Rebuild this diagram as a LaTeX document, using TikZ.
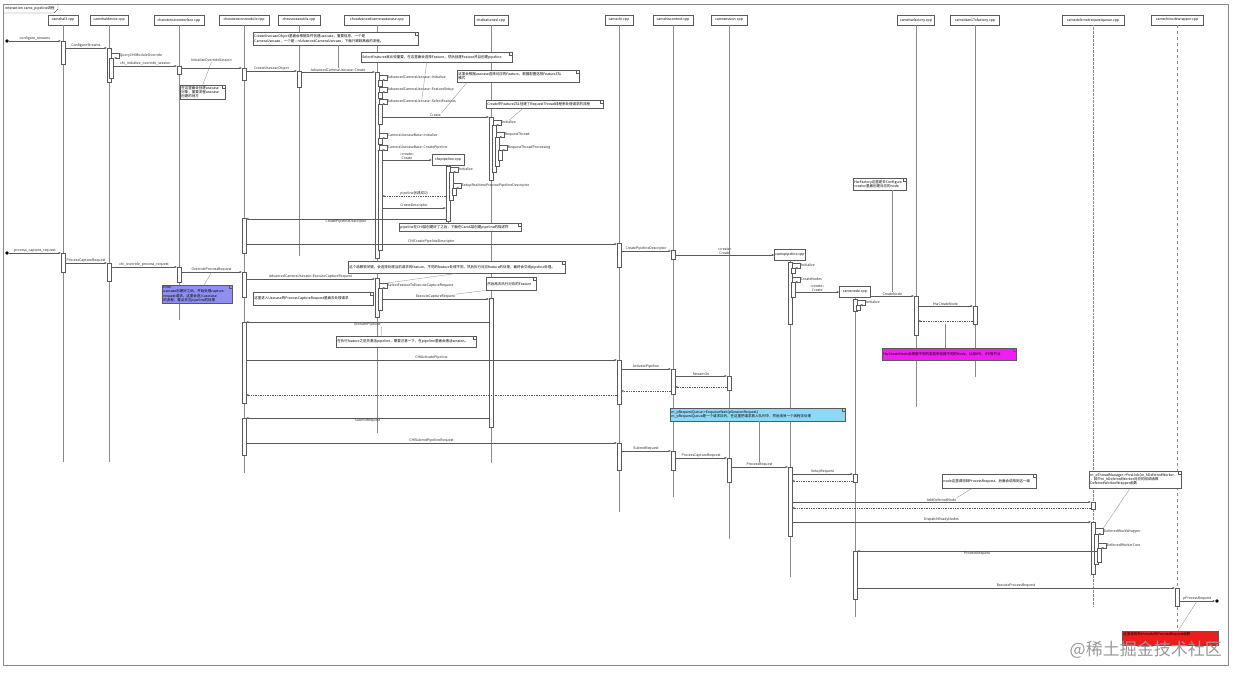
\documentclass[tikz,border=0pt]{standalone}
\usepackage{fontspec}
\setmainfont{Noto Sans CJK SC}
\usetikzlibrary{positioning, arrows.meta}
\definecolor{seqLine}{HTML}{5A5A5A}
\definecolor{seqLife}{HTML}{8A8A8A}
\definecolor{notePurple}{HTML}{8F8FF2}
\definecolor{noteMagenta}{HTML}{F01EF0}
\definecolor{noteCyan}{HTML}{8FD7F7}
\definecolor{noteRed}{HTML}{EE1D1D}
\newcommand\seqfont{\fontsize{3.5}{4.1}\selectfont}
% activation bar: [xshift]{name}{lifeline}{top}{bottom}
\newcommand\actbar[5][0pt]{\node[actbar, anchor=north, xshift=#1,
  minimum height={(#5-#4)*1pt}] (#2) at (#3 |- 0,#4) {};}
% messages: [label opts]{label name}{from}{to}{y}{text}
\newcommand\msgR[6][]{\draw[msg] (#3.east |- 0,#5) -- node[lbl,#1] (#2) {#6} (#4.west |- 0,#5);}
\newcommand\msgL[6][]{\draw[msg] (#3.west |- 0,#5) -- node[lbl,#1] (#2) {#6} (#4.east |- 0,#5);}
\newcommand\retL[3]{\draw[ret] (#1.west |- 0,#3) -- (#2.east |- 0,#3);}
\newcommand\selfmsg[5]{\draw[msg] (#2.east |- 0,#3) -- ++(8,0)
  -- node[lbl, right, anchor=west] (#1) {#5} ++(0,{#4-#3}) -- ++(-5,0);}
% note: [fill]{name}{x,y}{text width}{height}{text}
\newcommand\notebox[6][white]{\node[note, fill=#1, text width=#4, minimum height=#5] (#2) at (#3) {#6};
  \draw[notefold] ([xshift=-3pt]#2.north east) -- ([xshift=-3pt,yshift=-3pt]#2.north east) -- ([yshift=-3pt]#2.north east);}

\begin{document}
\begin{tikzpicture}[x=1pt, y=-1pt,
    head/.style={draw=seqLine, fill=white, font=\seqfont, minimum height=10pt, inner sep=1pt, line width=0.5pt},
    made/.style={head, minimum height=11pt},
    life/.style={draw=seqLife, line width=0.35pt},
    actbar/.style={draw=seqLine, fill=white, minimum width=4pt, inner sep=0pt, line width=0.4pt},
    msg/.style={draw=seqLine, line width=0.4pt, -{Stealth[length=2.6pt, width=2.2pt]}},
    ret/.style={msg, dash pattern=on 1.4pt off 1pt},
    lbl/.style={font=\seqfont, inner sep=0.5pt, above, align=center, text=black!85},
    note/.style={draw=seqLine, font=\seqfont, align=left, anchor=north west, inner sep=1.2pt, line width=0.4pt},
    notefold/.style={draw=seqLine, line width=0.3pt},
    link/.style={draw=seqLife, line width=0.3pt},
    dot/.style={circle, fill=black, inner sep=0pt, minimum size=3.6pt}]
  \useasboundingbox (0,0) rectangle (1240,677);
  \draw[seqLife, line width=0.5pt] (3,4) rectangle (1228,665);
  \node[font=\seqfont, anchor=west, inner sep=1pt] (title) at (4,8.5) {interaction camx\_pipeline流程};
  \draw[seqLine, line width=0.4pt] (3,13) -- (54,13) -- (58,9) -- (58,4);

  % lifeline heads
  \node[head, minimum width=30pt] (hal3) at (63,20) {camxhal3.cpp};
  \node[head, minimum width=38pt] (haldev) at (109,20) {camxhaldevice.cpp};
  \node[head, minimum width=50pt] (extif) at (179,20) {chxextensioninterface.cpp};
  \node[head, minimum width=50pt] (extmod) at (244,20) {chxextensionmodule.cpp};
  \node[head, minimum width=42pt] (ucutil) at (299,20) {chxusecaseutils.cpp};
  \node[head, minimum width=65pt] (advuc) at (377,20) {chxadvancedcamerausecase.cpp};
  \node[head, minimum width=34pt] (fzsl) at (491,20) {chxfeaturezsl.cpp};
  \node[head, minimum width=28pt] (chi) at (619,20) {camxchi.cpp};
  \node[head, minimum width=40pt] (hwctx) at (673,20) {camxhwcontext.cpp};
  \node[head, minimum width=36pt] (sess) at (729,20) {camxsession.cpp};
  \node[head, minimum width=37pt] (hwfac) at (916,20) {camxhwfactory.cpp};
  \node[head, minimum width=49pt] (titan) at (975,20) {camxtitan17xfactory.cpp};
  \node[head, minimum width=62pt] (drq) at (1093,20) {camxdeferredrequestqueue.cpp};
  \node[head, minimum width=52pt] (cnw) at (1177,20) {camxchinodewrapper.cpp};
  \node[made, minimum width=32pt] (chxpipe) at (448,159.5) {chxpipeline.cpp};
  \node[made, minimum width=30pt] (cxpipe) at (790,255) {camxpipeline.cpp};
  \node[made, minimum width=31pt] (cxnode) at (855,292) {camxnode.cpp};

  \foreach \n/\e in {hal3/462, haldev/462, extif/320, extmod/473, ucutil/256, advuc/433,
      fzsl/463, chi/512, hwctx/497, sess/539, hwfac/407, titan/377,
      chxpipe/226, cxpipe/577, cxnode/617}
    \draw[life] (\n.south) -- (\n.south |- 0,\e);
  \draw[life, densely dotted] (drq.south) -- (drq.south |- 0,607);
  \draw[life, dashed] (cnw.south) -- (cnw.south |- 0,631);

  % notes
  \notebox{n1}{180,85}{42.6pt}{13pt}{在这里面会创建usecase\\对象，重要流程usecase\\创建的地方}
  \notebox{n2}{253,32}{162.6pt}{13pt}{CreateUsecaseObject里面会根据条件创建usecase，重要信息，一个是\\CameraUsecase，一个是---{}>AdvancedCameraUsecase，下面只跟踪高级的流程。}
  \notebox{n3}{361,52}{148.6pt}{10pt}{SelectFeatures就比较重要，在这里面会选择Feature，然后创建Feature并且创建pipeline}
  \notebox{n4}{457,70}{119.6pt}{12pt}{这里会根据usecase选择对应的Feature，根据配置选择FeatureZSL\\模式}
  \notebox{n5}{486,100}{114.6pt}{8pt}{Create中FeatureZSL创建了RequestThread线程来处理请求的流程}
  \notebox{n6}{399,223}{119.6pt}{8pt}{pipeline在CHI层创建好了之后，下面在CamX层创建pipeline的描述符}
  \notebox{n7}{348,261}{214.6pt}{12pt}{这个函数很关键，会选择处理当前请求的feature，不同的feature处理不同，然后执行对应feature的处理，最终会交给pipeline处理。}
  \notebox{n8}{486,277}{47.6pt}{13pt}{然后再去执行对应的Feature}
  \notebox{n9}{253,292}{117.6pt}{13pt}{这里进入Usecase的ProcessCaptureRequest里面去处理请求}
  \notebox{n10}{336,336}{137.6pt}{11pt}{在执行feature之前先激活pipeline，需要注意一下，在pipeline里面会激活session。}
  \notebox[notePurple]{n11}{162,285}{67.6pt}{18pt}{note:\\usecase创建好之后，开始处理capture\\request请求，这里会进入usecase\\的流程，重点关注pipeline的处理}
  \notebox{n12}{853,178}{50.6pt}{12pt}{HwFactory这里是去Configure\\creator里面创建对应的node}
  \notebox[noteMagenta]{n13}{882,348}{131.6pt}{12pt}{HwCreateNode会根据不同的类型来创建不同的Node，比如IFE、IPE等节点}
  \notebox[noteCyan]{n14}{670,408}{172.6pt}{13pt}{m\_pRequestQueue->EnqueueWait(pSessionRequest)\\m\_pRequestQueue是一个请求队列，在这里把请求放入队列中，然后由另一个线程去处理}
  \notebox{n15}{942,474}{91.6pt}{14pt}{node这里调用到ProcessRequest，后面会调用到这一级}
  \notebox{n16}{1089,471}{89.6pt}{17pt}{m\_pThreadManager->PostJob(m\_hDeferredWorker...\\，其中m\_hDeferredWorker对应的回调函数\\DeferredWorkerWrapper函数}
  \node[note, fill=noteRed, text width=93.6pt, minimum height=14pt, anchor=north west, inner ysep=0.6pt, text depth=8pt] (n17) at (1122,631) {这里调用到chinode的ProcessRequest函数};
  \draw[notefold] ([xshift=-3pt]n17.north east) -- ([xshift=-3pt,yshift=-3pt]n17.north east) -- ([yshift=-3pt]n17.north east);

  % activations, configure_streams
  \actbar{a1}{hal3}{41}{64}
  \actbar{a2}{haldev}{48}{82}
  \actbar[2.5pt]{a2b}{haldev}{58}{78}
  \actbar{a3}{extif}{66}{74}
  \actbar{a4}{extmod}{68}{80}
  \actbar{a5}{ucutil}{71}{87}
  \actbar{a6}{advuc}{72}{258}
  \actbar[3pt]{a6b}{advuc}{80}{86}
  \actbar[3pt]{a6c}{advuc}{92}{98}
  \actbar[3pt]{a6d}{advuc}{104}{124}
  \actbar[3pt]{a6e}{advuc}{138}{144}
  \actbar[3pt]{a6f}{advuc}{150}{250}
  \actbar{a7}{fzsl}{117}{180}
  \actbar[3pt]{a7b}{fzsl}{125}{172}
  \actbar[6pt]{a7c}{fzsl}{137}{166}
  \actbar[9pt]{a7d}{fzsl}{150}{160}
  \actbar{a8}{chxpipe}{166}{221}
  \actbar[3pt]{a8b}{chxpipe}{172}{200}
  \actbar[6pt]{a8c}{chxpipe}{188}{195}
  \actbar{a9}{extmod}{218}{253}
  \actbar{a10}{chi}{243}{267}
  \actbar{a11}{hwctx}{250}{259}
  \actbar{a12}{cxpipe}{262}{324}
  \actbar[3pt]{a12i}{cxpipe}{268}{273}
  \actbar[3pt]{a12b}{cxpipe}{282}{297}
  \actbar{a13}{cxnode}{299}{311}
  \actbar[3pt]{a13i}{cxnode}{305}{310}
  \actbar{a14}{hwfac}{296}{335}
  \actbar{a15}{titan}{306}{324}
  % activations, process_capture_request
  \actbar{b1}{hal3}{253}{272}
  \actbar{b2}{haldev}{263}{281}
  \actbar{b3}{extif}{267}{282}
  \actbar{b4}{extmod}{272}{297}
  \actbar{b5}{advuc}{278}{317}
  \actbar[3pt]{b5b}{advuc}{288}{310}
  \actbar{b6}{fzsl}{298}{427}
  \actbar{b7}{extmod}{322}{403}
  \actbar{b8}{chi}{360}{404}
  \actbar{b9}{hwctx}{369}{394}
  \actbar{b10}{sess}{376}{390}
  \actbar{b11}{extmod}{418}{455}
  \actbar{b12}{chi}{443}{470}
  \actbar{b13}{hwctx}{451}{470}
  \actbar{b14}{sess}{458}{482}
  \actbar{b15}{cxpipe}{467}{536}
  \actbar{b16}{cxnode}{474}{482}
  \actbar{b17}{drq}{502}{509}
  \actbar{b18}{drq}{522}{574}
  \actbar[3pt]{b18b}{drq}{534}{564}
  \actbar[6pt]{b18c}{drq}{548}{562}
  \actbar{b19}{cxnode}{551}{599}
  \actbar{b20}{cnw}{588}{606}

  % configure_streams
  \node[dot] (start1) at (7,41) {};
  \draw[msg] (start1) -- node[lbl] (lCfg) {configure\_streams} (a1.west |- 0,41);
  \msgR{lCfgS}{a1}{a2}{48}{ConfigureStreams}
  \selfmsg{lQuery}{a2}{53}{58}{QueryCHIModuleOverride}
  \msgR{lChiInit}{a2b}{a3}{66}{chi\_initialize\_override\_session}
  \msgR[yshift=6pt]{lInitOS}{a3}{a4}{68}{InitializeOverrideSession}
  \msgR{lUcObj}{a4}{a5}{71}{CreateUsecaseObject}
  \msgR{lAdvCreate}{a5}{a6}{72}{AdvancedCameraUsecase::Create}
  \selfmsg{lAdvInit}{a6}{75}{80}{AdvancedCameraUsecase::Initialize}
  \selfmsg{lFeatSetup}{a6}{87}{92}{AdvancedCameraUsecase::FeatureSetup}
  \selfmsg{lSelect}{a6}{99}{104}{AdvancedCameraUsecase::SelectFeatures}
  \msgR{lCreateF}{a6d}{a7}{117}{Create}
  \selfmsg{lInitF}{a7}{120}{125}{Initialize}
  \selfmsg{lReqThr}{a7b}{132}{137}{RequestThread}
  \selfmsg{lReqProc}{a7c}{145}{150}{RequestThreadProcessing}
  \selfmsg{lUcbInit}{a6}{133}{138}{CameraUsecaseBase::Initialize}
  \selfmsg{lUcbPipe}{a6}{145}{150}{CameraUsecaseBase::CreatePipeline}
  \msgR{lMkChxPipe}{a6f}{chxpipe}{160}{«create»\\Create}
  \selfmsg{lPipeInit}{a8}{167}{172}{Initialize}
  \selfmsg{lSetupRt}{a8b}{183}{188}{SetupRealtimePreviewPipelineDescriptor}
  \draw[ret] (a8.west |- 0,196) -- node[lbl] (lPipeOk) {pipeline创建成功} (a6f.east |- 0,196);
  \msgR{lCreateDesc}{a6f}{a8}{208}{CreateDescriptor}
  \msgL[below]{lPipeDesc}{a8}{a9}{219}{CreatePipelineDescriptor}
  \msgR{lChiDesc}{a9}{a10}{244}{CHICreatePipelineDescriptor}
  \msgR{lCtxDesc}{a10}{a11}{251}{CreatePipelineDescriptor}
  \msgR{lMkCxPipe}{a11}{cxpipe}{255}{«create»\\Create}
  \selfmsg{lCxInit}{a12}{263}{268}{Initialize}
  \selfmsg{lCreateNodes}{a12}{277}{282}{CreateNodes}
  \msgR{lMkNode}{a12b}{cxnode}{292}{«create»\\Create}
  \selfmsg{lNodeInit}{a13}{300}{305}{Initialize}
  \msgR{lCreateNode}{cxnode}{a14}{296}{CreateNode}
  \msgR{lHwCreate}{a14}{a15}{306}{HwCreateNode}
  \retL{a15}{a14}{321}

  % process_capture_request
  \node[dot] (start2) at (7,253) {};
  \draw[msg] (start2) -- node[lbl] (lPcr) {process\_capture\_request} (b1.west |- 0,253);
  \msgR{lPcrHal}{b1}{b2}{263}{ProcessCaptureRequest}
  \msgR{lChiOvr}{b2}{b3}{267}{chi\_override\_process\_request}
  \msgR{lOverride}{b3}{b4}{272}{OverrideProcessRequest}
  \msgR{lExecCap}{b4}{b5}{279}{AdvancedCameraUsecase::ExecuteCaptureRequest}
  \selfmsg{lSelFeat}{b5}{283}{288}{SelectFeatureToExecuteCaptureRequest}
  \msgR{lExecCR}{b5b}{b6}{299}{ExecuteCaptureRequest}
  \msgL[below]{lActPipe}{b6}{b7}{322}{ActivatePipeline}
  \msgR{lChiAct}{b7}{b8}{360}{CHIActivatePipeline}
  \msgR{lCtxAct}{b8}{b9}{369}{ActivatePipeline}
  \msgR{lStreamOn}{b9}{b10}{376}{StreamOn}
  \retL{b10}{b9}{387}
  \retL{b9}{b8}{391}
  \retL{b8}{b7}{395}
  \msgL[below]{lSubmit}{b6}{b11}{418}{SubmitRequest}
  \msgR{lChiSubmit}{b11}{b12}{443}{CHISubmitPipelineRequest}
  \msgR{lCtxSubmit}{b12}{b13}{451}{SubmitRequest}
  \msgR{lSessPcr}{b13}{b14}{458}{ProcessCaptureRequest}
  \msgR{lProcReq}{b14}{b15}{467}{ProcessRequest}
  \msgR{lSetupReq}{b15}{b16}{474}{SetupRequest}
  \retL{b16}{b15}{481}
  \msgR{lAddDef}{b15}{b17}{502}{AddDeferredNode}
  \retL{b17}{b15}{508}
  \msgR{lDispatch}{b15}{b18}{522}{DispatchReadyNodes}
  \selfmsg{lDefWork}{b18}{528}{534}{DeferredWorkWrapper}
  \selfmsg{lDefCore}{b18b}{543}{548}{DeferredWorkerCore}
  \msgL[below]{lNodeProc}{b18c}{b19}{551}{ProcessRequest}
  \msgR{lExecPr}{b19}{b20}{588}{ExecuteProcessRequest}
  \node[dot] (end1) at (1217,601) {};
  \draw[msg] (b20.east |- 0,601) -- node[lbl] (lPProc) {pProcessRequest} (end1.west);

  % note anchors
  \draw[link] (n1.north) -- (lInitOS.south);
  \draw[link] (lAdvCreate.north) -- (lAdvCreate.north |- n2.south);
  \draw[link] ([xshift=-10pt]n3.south) -- (lSelect.north);
  \draw[link] ([xshift=10pt]n4.south west) -- (lCreateF.north east);
  \draw[link] ([xshift=37pt]n5.south west) -- (lInitF.north);
  \draw[link] (n7.south) -- (lSelFeat.north west);
  \draw[link] (n8.south west) -- (lExecCR.north east);
  \draw[link] ([xshift=-25pt]n10.north) -- (lActPipe.south east);
  \draw[link] ([xshift=7pt]n11.north) -- (lOverride.south);
  \draw[link] (lCreateNode.north) -- (lCreateNode.north |- n12.south);
  \draw[link] (lHwCreate |- n13.north) -- (lHwCreate |- a15.south);
  \draw[link] (lProcReq |- n14.south) -- (lProcReq.north);
  \draw[link] ([xshift=30pt]n15.south west) -- (lAddDef.north east);
  \draw[link] ([xshift=41pt]n16.south west) -- (lDefWork.north west);
  \draw[link] ([xshift=56pt]n17.north west) -- (lPProc.south);

  \node[font=\fontsize{17}{17}\selectfont, text=black!40, anchor=east, inner sep=0pt] (mark) at (1222,650) {@稀土掘金技术社区};
\end{tikzpicture}
\end{document}
